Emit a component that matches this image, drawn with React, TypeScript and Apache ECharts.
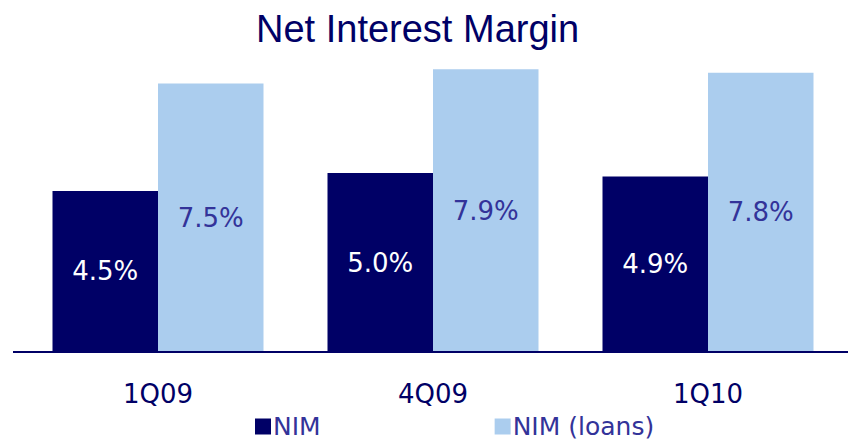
import React, { useEffect, useRef } from "react";
import * as echarts from "echarts";

const categories = ["1Q09", "4Q09", "1Q10"];
const nimValues = [4.5, 5.0, 4.9];
const nimLoansValues = [7.5, 7.9, 7.8];
const seriesNames = ["NIM", "NIM (loans)"];
const titleText = "Net Interest Margin";

export default function App() {
  const ref = useRef<HTMLDivElement>(null);
  useEffect(() => {
    if (!ref.current) return;
    const chart = echarts.init(ref.current, null, { renderer: "svg" });
    const font = "'DejaVu Sans', Verdana, sans-serif";
    chart.setOption({
      animation: false,
      backgroundColor: "#ffffff",
      title: {
        text: titleText,
        left: 251,
        top: 5,
        textStyle: {
          fontFamily: "'Liberation Sans', Arial, sans-serif",
          fontSize: 38,
          fontWeight: "normal",
          color: "#000066",
        },
      },
      legend: {
        left: 250,
        top: 409,
        itemWidth: 16,
        itemHeight: 16,
        itemGap: 174,
        icon: "rect",
        data: seriesNames,
        textStyle: { fontFamily: font, fontSize: 25, color: "#333399", padding: [0, 0, 0, -3] },
      },
      grid: { left: 20.5, width: 825, top: 65.6, bottom: 89, containLabel: false },
      xAxis: {
        type: "category",
        data: categories,
        axisLine: { show: false },
        axisTick: { show: false },
        axisLabel: { margin: 29, fontFamily: font, fontSize: 26, color: "#000066" },
      },
      yAxis: { type: "value", min: 0, max: 8, show: false, splitLine: { show: false } },
      graphic: [
        {
          type: "line",
          shape: { x1: 13, y1: 352, x2: 848, y2: 352 },
          style: { stroke: "#000066", lineWidth: 2 },
          z: 10,
        },
      ],
      series: [
        {
          name: seriesNames[0],
          type: "bar",
          data: nimValues,
          barWidth: 105.5,
          barGap: "0%",
          itemStyle: { color: "#000066" },
          label: {
            show: true,
            position: "inside",
            formatter: (p: any) => p.value.toFixed(1) + "%",
            fontFamily: font,
            fontSize: 26,
            color: "#ffffff",
          },
        },
        {
          name: seriesNames[1],
          type: "bar",
          data: nimLoansValues,
          barWidth: 105.5,
          barGap: "0%",
          itemStyle: { color: "#ABCDEE" },
          label: {
            show: true,
            position: "inside",
            formatter: (p: any) => p.value.toFixed(1) + "%",
            fontFamily: font,
            fontSize: 26,
            color: "#333399",
          },
        },
      ],
    });
    return () => chart.dispose();
  }, []);
  return (
    <div
      ref={ref}
      style={{ position: "fixed", left: 0, top: 0, width: 848, height: 441 }}
    />
  );
}
